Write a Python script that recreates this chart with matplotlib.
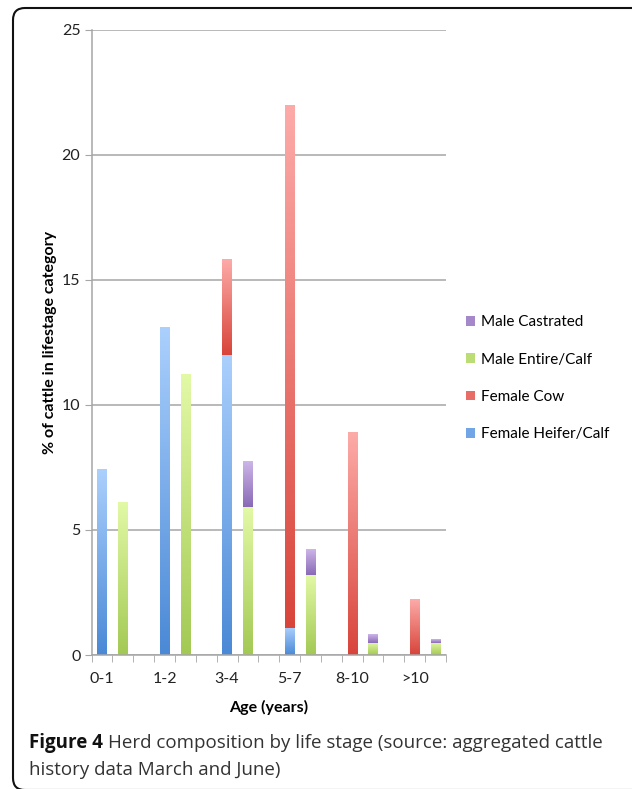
import numpy as np
import matplotlib
matplotlib.use("Agg")
import matplotlib.pyplot as plt
from matplotlib.colors import LinearSegmentedColormap, to_rgb
from matplotlib.patches import FancyBboxPatch, Patch

plt.rcParams["font.family"] = ["Lato", "DejaVu Sans"]

# data (% of cattle)
age_groups = ["0-1", "1-2", "3-4", "5-7", "8-10", ">10"]
heifer = [7.4, 13.1, 12.0, 1.1, 0.0, 0.0]
cow = [0.0, 0.0, 3.8, 20.9, 8.9, 2.2]
entire = [6.1, 11.2, 5.9, 3.2, 0.5, 0.5]
castrated = [0.0, 0.0, 1.8, 1.0, 0.33, 0.13]

# (bottom colour, top colour) for the gradient fill
grad = {
    "Female Heifer/Calf": ("#4a89d6", "#abd0fd"),
    "Female Cow": ("#d8443a", "#fdaba9"),
    "Male Entire/Calf": ("#a3c954", "#e2f9a6"),
    "Male Castrated": ("#8969b6", "#cdb6e8"),
}

fig = plt.figure(figsize=(6.32, 7.89), dpi=100)
ax = fig.add_axes([0.1448, 0.1698, 0.561, 0.7928])

female_x = np.arange(len(age_groups)) * 3
male_x = female_x + 1
width = 0.45


def gradient_bars(x, vals, bottom, name):
    bars = ax.bar(x, vals, width, bottom=bottom, color="none", edgecolor="none")
    cmap = LinearSegmentedColormap.from_list(name, grad[name])
    g = np.linspace(0, 1, 256).reshape(-1, 1)
    for r in bars:
        if r.get_height() <= 0:
            continue
        x0, y0 = r.get_x(), r.get_y()
        ax.imshow(g, cmap=cmap, origin="lower", aspect="auto", zorder=2,
                  extent=[x0, x0 + r.get_width(), y0, y0 + r.get_height()],
                  interpolation="bilinear")


gradient_bars(female_x, heifer, 0, "Female Heifer/Calf")
gradient_bars(female_x, cow, heifer, "Female Cow")
gradient_bars(male_x, entire, 0, "Male Entire/Calf")
gradient_bars(male_x, castrated, entire, "Male Castrated")

ax.set_xlim(-0.5, 16.5)
ax.set_ylim(0, 25)

ax.set_yticks(range(0, 26, 5))
ax.yaxis.grid(True, color="#a6a6a6", linewidth=1.1, zorder=0)
ax.set_axisbelow(True)
ax.tick_params(axis="y", length=5, color="#a6a6a6", labelsize=11.5, pad=3,
               labelcolor="#222222")

ax.set_xticks(female_x)
ax.set_xticklabels(age_groups)
ax.set_xticks(np.arange(-0.5, 17, 1), minor=True)
ax.tick_params(axis="x", which="major", length=0, labelsize=11.5, pad=12,
               labelcolor="#222222")
ax.tick_params(axis="x", which="minor", length=5, color="#a6a6a6")

for s in ["top", "right"]:
    ax.spines[s].set_visible(False)
for s in ["left", "bottom"]:
    ax.spines[s].set_color("#a6a6a6")
    ax.spines[s].set_linewidth(1.1)

ax.set_ylabel("% of cattle in lifestage category", fontsize=11.5,
              fontweight="bold", labelpad=3)
ax.set_xlabel("Age (years)", fontsize=11.5, fontweight="bold", labelpad=10)


def mid(name):
    lo, hi = np.array(to_rgb(grad[name][0])), np.array(to_rgb(grad[name][1]))
    return tuple(0.6 * lo + 0.4 * hi)


handles = [Patch(facecolor=mid(k), edgecolor="none", label=k)
           for k in ["Male Castrated", "Male Entire/Calf", "Female Cow",
                     "Female Heifer/Calf"]]
fig.legend(handles=handles, loc="upper left", bbox_to_anchor=(0.715, 0.618),
           frameon=False, fontsize=11, handlelength=0.6, handleheight=0.6,
           handletextpad=0.4, labelspacing=1.53)

# frame round the whole figure panel
fig.patches.append(FancyBboxPatch((13, -1), 640, 782, transform=None,
                                  boxstyle="round,pad=0,rounding_size=12",
                                  facecolor="none", edgecolor="#111111",
                                  linewidth=1.5))

cap_font = ["Open Sans", "DejaVu Sans"]
t = fig.text(29 / 632, 1 - 743 / 789, "Figure 4", fontsize=13.5,
             fontweight="bold", family=cap_font, va="center", color="#111111")
fig.canvas.draw()
bb = t.get_window_extent(fig.canvas.get_renderer())
fig.text((bb.x1 + 5) / 632, 1 - 743 / 789,
         "Herd composition by life stage (source: aggregated cattle",
         fontsize=13.5, family=cap_font, va="center", color="#333333")
fig.text(29 / 632, 1 - 770 / 789, "history data March and June)",
         fontsize=13.5, family=cap_font, va="center", color="#333333")

fig.savefig("out.png", dpi=100)
